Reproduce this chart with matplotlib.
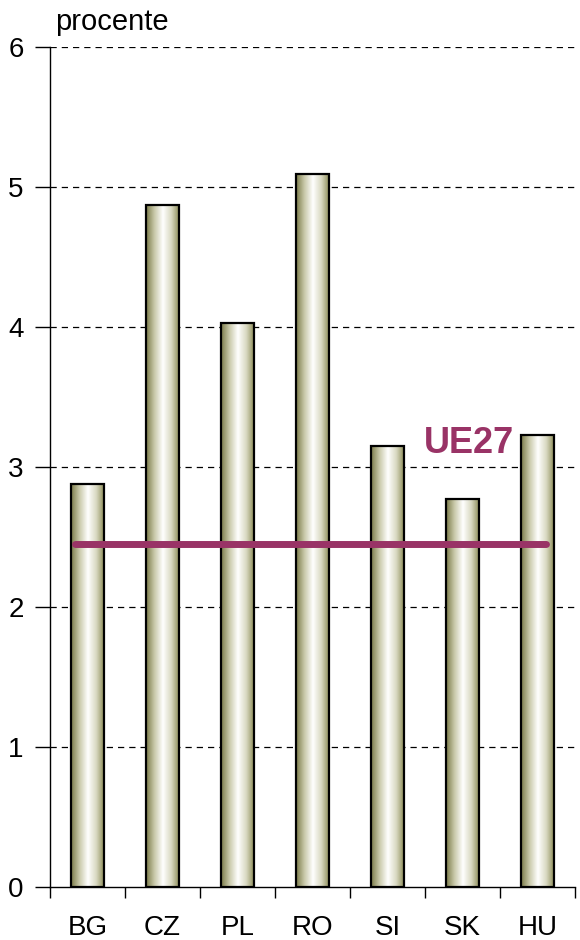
import matplotlib
matplotlib.use("Agg")
import matplotlib.pyplot as plt
import numpy as np
from matplotlib.colors import LinearSegmentedColormap

countries = ["BG", "CZ", "PL", "RO", "SI", "SK", "HU"]
values = [2.88, 4.87, 4.03, 5.09, 3.15, 2.77, 3.23]
ue27 = 2.45
yticks = [0, 1, 2, 3, 4, 5, 6]

plt.rcParams["font.family"] = ["Liberation Sans", "DejaVu Sans"]

fig = plt.figure(figsize=(5.8, 9.4), dpi=100)
ax = fig.add_axes([0.0862, 0.0564, 0.905, 0.8936])

cmap = LinearSegmentedColormap.from_list(
    "cyl", ["#7a7a48", "#c9c9aa", "#ffffff", "#d8d8c0", "#86864f"])
grad = np.linspace(0, 1, 256).reshape(1, -1)
w = 0.45
x = np.arange(len(countries))
for xi, v in zip(x, values):
    ax.imshow(grad, cmap=cmap, aspect="auto", extent=(xi - w / 2, xi + w / 2, 0, v),
              zorder=2, interpolation="bilinear")
    ax.add_patch(plt.Rectangle((xi - w / 2, 0), w, v, fill=False, edgecolor="black",
                               lw=1.6, zorder=3))

ax.plot([x[0] - 0.17, x[-1] + 0.12], [ue27, ue27], color="#993366", lw=5,
        solid_capstyle="round", zorder=4)
ax.text(5.09, 3.17, "UE27", color="#993366", fontsize=26, fontweight="bold",
        ha="center", va="center")

ax.set_xlim(-0.5, len(countries) - 0.5)
ax.set_ylim(0, 6)
ax.set_yticks(yticks)
ax.set_yticklabels([str(t) for t in yticks], fontsize=20)
ax.set_xticks(x)
ax.set_xticklabels(countries, fontsize=20)
ax.tick_params(axis="x", length=0, pad=20)
ax.set_xticks(np.arange(-0.5, len(countries), 1), minor=True)
ax.tick_params(axis="x", which="minor", length=8, width=1, direction="out")
ax.tick_params(axis="y", length=11, width=1, direction="out", pad=8)
for t in yticks[1:]:
    ax.axhline(t, color="black", lw=0.9, ls=(0, (5, 4)), zorder=1)
for s in ["top", "right"]:
    ax.spines[s].set_visible(False)
ax.spines["left"].set_linewidth(1)
ax.spines["bottom"].set_linewidth(1)
ax.text(0.01, 1.03, "procente", transform=ax.transAxes, fontsize=21, ha="left",
        va="center")

fig.savefig("out.png", dpi=100)
